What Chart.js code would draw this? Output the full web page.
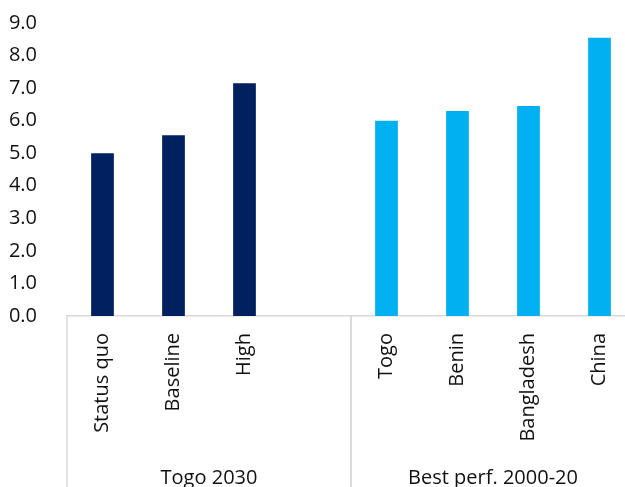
<!DOCTYPE html>
<html>
<head>
<meta charset="utf-8">
<script src="https://cdn.jsdelivr.net/npm/chart.js@4/dist/chart.umd.min.js"></script>
<style>
    html, body { margin: 0; padding: 0; background: #fff; overflow: hidden; }
    #wrap { width: 640px; height: 487px; }
</style>
</head>
<body>
<div id="wrap"><canvas id="BarGrowth"></canvas></div>
<script>
const categories = ['Status quo', 'Baseline', 'High', '', 'Togo', 'Benin', 'Bangladesh', 'China'];
const growth = [5.0, 5.55, 7.15, null, 6.0, 6.3, 6.45, 8.55];
const groups = [
    { label: 'Togo 2030', from: 0, to: 3, color: '#002060' },
    { label: 'Best perf. 2000-20', from: 4, to: 7, color: '#00B0F0' },
];
const yTicks = [0, 1, 2, 3, 4, 5, 6, 7, 8, 9];

const barColors = categories.map((c, i) => groups.find(g => i >= g.from && i <= g.to).color);
const fontFamily = "'Open Sans', sans-serif";

// group labels and separators under the category axis
const groupAxis = {
    id: 'groupAxis',
    afterDraw(chart) {
        const ctx = chart.ctx;
        const x = chart.scales.x;
        const bottom = chart.chartArea.bottom;
        const step = x.getPixelForValue(1) - x.getPixelForValue(0);
        ctx.save();
        ctx.strokeStyle = '#d9d9d9';
        ctx.lineWidth = 1.5;
        ctx.fillStyle = '#111';
        ctx.font = '20px ' + fontFamily;
        ctx.textAlign = 'center';
        ctx.textBaseline = 'middle';
        groups.forEach(g => {
            const left = x.getPixelForValue(g.from) - step / 2;
            const right = x.getPixelForValue(g.to) + step / 2;
            [left, right].forEach(px => {
                ctx.beginPath();
                ctx.moveTo(px, bottom);
                ctx.lineTo(px, chart.height);
                ctx.stroke();
            });
            ctx.fillText(g.label, (left + right) / 2, 478);
        });
        ctx.restore();
    }
};

new Chart(document.getElementById('BarGrowth'), {
    type: 'bar',
    plugins: [groupAxis],
    data: {
        labels: categories,
        datasets: [{
            data: growth,
            backgroundColor: barColors,
            barPercentage: 0.32,
            categoryPercentage: 1,
        }]
    },
    options: {
        responsive: true,
        maintainAspectRatio: false,
        animation: false,
        layout: { padding: { top: 23, right: 5, left: 0, bottom: 0 } },
        scales: {
            x: {
                grid: { display: false },
                border: { color: '#d9d9d9', width: 1.5 },
                ticks: {
                    color: '#111',
                    font: { family: fontFamily, size: 20 },
                    minRotation: 90,
                    maxRotation: 90,
                    autoSkip: false,
                    padding: 9,
                },
                afterFit: scale => {
                    scale.height = 171;
                    scale.paddingLeft = 0;
                    scale.paddingRight = 0;
                },
            },
            y: {
                min: 0,
                max: 9,
                grid: { display: false },
                border: { display: false },
                afterBuildTicks: scale => { scale.ticks = yTicks.map(v => ({ value: v })); },
                ticks: {
                    color: '#111',
                    font: { family: fontFamily, size: 20 },
                    padding: 22,
                    callback: v => v.toFixed(1),
                },
                afterFit: scale => {
                    scale.width = 67;
                    scale.paddingTop = 0;
                    scale.paddingBottom = 0;
                },
            }
        },
        plugins: {
            legend: { display: false },
            tooltip: { enabled: false },
        },
    },
});
</script>
</body>
</html>
